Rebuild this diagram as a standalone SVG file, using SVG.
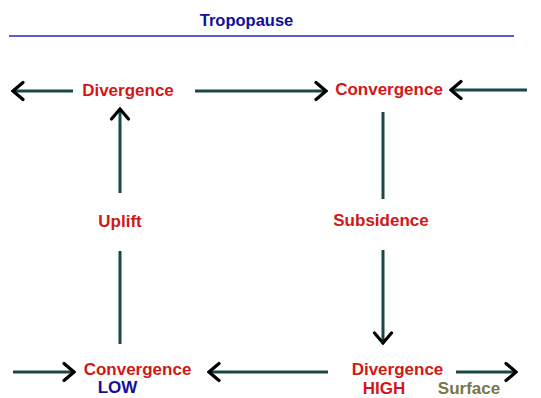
<svg xmlns="http://www.w3.org/2000/svg" width="541" height="398" viewBox="0 0 541 398">
<style>
.lbl{font-family:"Liberation Sans",Arial,sans-serif;font-weight:bold;font-size:17px;text-anchor:middle}
.red{fill:#d01818}
.blue{fill:#10109a}
.olive{fill:#77774a}
.shaft{stroke:#1a4848;stroke-width:3;fill:none}
</style>
<defs>
<marker id="head" markerUnits="userSpaceOnUse" viewBox="-14 -11 16 22" refX="0" refY="0" markerWidth="16" markerHeight="22" orient="auto">
<path d="M-10,-8.5 L0,0 L-10,8.5" fill="none" stroke="#000" stroke-width="3.2" stroke-linecap="round" stroke-linejoin="miter"/>
</marker>
</defs>
<rect width="541" height="398" fill="#fff"/>
<g id="tropopause">
<text class="lbl blue" x="246.5" y="26" style="font-size:16.5px">Tropopause</text>
<line x1="9" y1="36" x2="514" y2="36" stroke="#2828c0" stroke-width="1.5"/>
</g>
<g id="connectors">
<line class="shaft" x1="73" y1="91" x2="13" y2="91" marker-end="url(#head)"/>
<line class="shaft" x1="195" y1="91" x2="326" y2="91" marker-end="url(#head)"/>
<line class="shaft" x1="527" y1="90" x2="451" y2="90" marker-end="url(#head)"/>
<line class="shaft" x1="120" y1="193" x2="120" y2="109" marker-end="url(#head)"/>
<line class="shaft" x1="120" y1="251" x2="120" y2="344"/>
<line class="shaft" x1="383" y1="112" x2="383" y2="199"/>
<line class="shaft" x1="383" y1="250" x2="383" y2="343" marker-end="url(#head)"/>
<line class="shaft" x1="13" y1="372" x2="74" y2="372" marker-end="url(#head)"/>
<line class="shaft" x1="328" y1="372" x2="209" y2="372" marker-end="url(#head)"/>
<line class="shaft" x1="456" y1="372" x2="516" y2="372" marker-end="url(#head)"/>
</g>
<g id="div-top"><text class="lbl red" x="128" y="96">Divergence</text></g>
<g id="conv-top"><text class="lbl red" x="389" y="95">Convergence</text></g>
<g id="uplift"><text class="lbl red" x="120" y="227">Uplift</text></g>
<g id="subsidence"><text class="lbl red" x="381" y="226">Subsidence</text></g>
<g id="conv-low">
<text class="lbl red" x="137.5" y="375">Convergence</text>
<text class="lbl blue" x="117.5" y="393">LOW</text>
</g>
<g id="div-high">
<text class="lbl red" x="397.5" y="375">Divergence</text>
<text class="lbl red" x="384" y="394">HIGH</text>
</g>
<g id="surface"><text class="lbl olive" x="469" y="394">Surface</text></g>
</svg>
